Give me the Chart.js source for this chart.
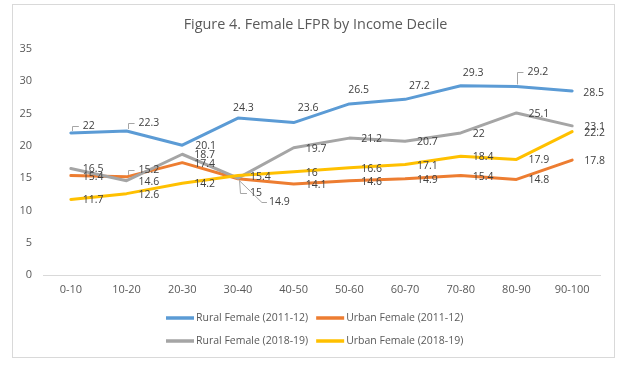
<!DOCTYPE html>
<html>
<head>
<meta charset="utf-8">
<title>Figure 4. Female LFPR by Income Decile</title>
<script src="https://cdn.jsdelivr.net/npm/chart.js@4.4.1/dist/chart.umd.min.js"></script>
<style>
  html, body { margin: 0; padding: 0; background: #fff; }
  canvas { display: block; }
</style>
</head>
<body>
<canvas id="chart" width="626" height="369"></canvas>
<script>
(function(){
  // income deciles on the x axis
  const categories = ['0-10', '10-20', '20-30', '30-40', '40-50', '50-60', '60-70', '70-80', '80-90', '90-100'];

  // female LFPR (%) per decile
  const ruralFemale2011 = [22, 22.3, 20.1, 24.3, 23.6, 26.5, 27.2, 29.3, 29.2, 28.5];
  const urbanFemale2011 = [15.4, 15.2, 17.4, 14.9, 14.1, 14.6, 14.9, 15.4, 14.8, 17.8];
  const ruralFemale2018 = [16.5, 14.6, 18.7, 15, 19.7, 21.2, 20.7, 22, 25.1, 23.1];
  const urbanFemale2018 = [11.7, 12.6, 14.2, 15.4, 16, 16.6, 17.1, 18.4, 17.9, 22.2];

  const yMin = 0, yMax = 35, yStep = 5;

  const TITLE = 'Figure 4. Female LFPR by Income Decile';
  const FONT = '"Open Sans", "Noto Sans", sans-serif';
  const TEXT = '#595959';
  const LABEL = '#404040';

  // where Excel put each data label: [dx, dy, leader], default is right of the point
  const LABEL_DEFAULT = [12, 1, null];
  const labelMoves = [
    { 0: [12, -7, 'up'], 1: [12, -8, 'up'], 2: [13, 1], 3: [-5, -10], 4: [4, -15], 5: [-1, -14], 6: [4, -13], 7: [2, -13], 8: [11, -14, 'up'], 9: [11, 2] },
    { 1: [12, -7, 'up'], 3: [31, 23, 'diag'] },
    { 3: [12, 15, 'down'] },
    {}
  ];

  const frame = {
    id: 'frame',
    beforeDraw(chart){
      const ctx = chart.ctx;
      ctx.save();
      ctx.fillStyle = '#fff';
      ctx.fillRect(0, 0, chart.width, chart.height);
      ctx.strokeStyle = '#d9d9d9';
      ctx.lineWidth = 1;
      ctx.strokeRect(12.5, 4.5, 602, 353);
      // title
      ctx.fillStyle = TEXT;
      ctx.font = '14.4px ' + FONT;
      ctx.textAlign = 'center';
      ctx.textBaseline = 'middle';
      ctx.fillText(TITLE, 315.5, 25);
      ctx.restore();
    }
  };

  const dataLabels = {
    id: 'dataLabels',
    afterDatasetsDraw(chart){
      const ctx = chart.ctx;
      ctx.save();
      ctx.font = '10.5px ' + FONT;
      ctx.textAlign = 'left';
      ctx.textBaseline = 'middle';
      chart.data.datasets.forEach((ds, di) => {
        const meta = chart.getDatasetMeta(di);
        meta.data.forEach((pt, i) => {
          const m = labelMoves[di][i] || LABEL_DEFAULT;
          const lx = pt.x + m[0], ly = pt.y + m[1];
          if (m[2]) {
            ctx.strokeStyle = '#a6a6a6';
            ctx.lineWidth = 1;
            ctx.beginPath();
            const x0 = Math.round(pt.x) + 1.5;
            if (m[2] === 'up') {
              ctx.moveTo(x0, pt.y - 2);
              ctx.lineTo(x0, Math.round(ly) + 0.5);
              ctx.lineTo(lx - 4, Math.round(ly) + 0.5);
            } else if (m[2] === 'down') {
              ctx.moveTo(x0, pt.y + 2);
              ctx.lineTo(x0 + 1, Math.round(ly) + 0.5);
              ctx.lineTo(lx - 3, Math.round(ly) + 0.5);
            } else {
              ctx.moveTo(x0, pt.y + 2);
              ctx.lineTo(lx - 7, Math.round(ly) + 0.5);
              ctx.lineTo(lx - 2, Math.round(ly) + 0.5);
            }
            ctx.stroke();
          }
          ctx.fillStyle = LABEL;
          ctx.fillText(String(ds.data[i]), lx, ly);
        });
      });
      ctx.restore();
    }
  };

  const legend = {
    id: 'twoRowLegend',
    afterDraw(chart){
      const ctx = chart.ctx;
      ctx.save();
      ctx.font = '10.5px ' + FONT;
      ctx.textBaseline = 'middle';
      ctx.textAlign = 'left';
      const items = chart.data.datasets.map(ds => ({
        label: ds.label, color: ds.borderColor, w: 28 + 2 + ctx.measureText(ds.label).width
      }));
      const col1 = Math.max(items[0].w, items[2].w);
      const col2 = Math.max(items[1].w, items[3].w);
      const gap = 8;
      const x0 = Math.round(chart.width / 2 + 2 - (col1 + gap + col2) / 2);
      const cols = [x0, x0 + col1 + gap];
      const rowsY = [chart.chartArea.bottom + 43, chart.chartArea.bottom + 66];
      items.forEach((it, i) => {
        const x = cols[i % 2], y = rowsY[Math.floor(i / 2)];
        ctx.strokeStyle = it.color;
        ctx.lineWidth = 3.5;
        ctx.beginPath();
        ctx.moveTo(x, y);
        ctx.lineTo(x + 28, y);
        ctx.stroke();
        ctx.fillStyle = TEXT;
        ctx.fillText(it.label, x + 30, y);
      });
      ctx.restore();
    }
  };

  function line(label, data, color, order){
    return {
      label: label, data: data, borderColor: color, backgroundColor: color,
      borderWidth: 3, pointRadius: 0, tension: 0, fill: false,
      borderJoinStyle: 'round', borderCapStyle: 'round', order: order
    };
  }

  new Chart(document.getElementById('chart'), {
    type: 'line',
    data: {
      labels: categories,
      datasets: [
        line('Rural Female (2011-12)', ruralFemale2011, '#5b9bd5', 3),
        line('Urban Female (2011-12)', urbanFemale2011, '#ed7d31', 2),
        line('Rural Female (2018-19)', ruralFemale2018, '#a5a5a5', 1),
        line('Urban Female (2018-19)', urbanFemale2018, '#ffc000', 0)
      ]
    },
    options: {
      responsive: false,
      animation: false,
      devicePixelRatio: 1,
      layout: { padding: { left: 12, right: 26, top: 49, bottom: 0 } },
      plugins: { legend: { display: false }, title: { display: false }, tooltip: { enabled: false } },
      scales: {
        x: {
          offset: true,
          grid: { display: false, drawTicks: false },
          border: { display: true, color: '#d9d9d9', width: 1 },
          ticks: { color: TEXT, font: { family: FONT, size: 11 }, padding: 8, maxRotation: 0, autoSkip: false },
          afterFit(scale){ scale.height = 94; }
        },
        y: {
          min: yMin, max: yMax,
          grid: { display: false, drawTicks: false },
          border: { display: false },
          ticks: { stepSize: yStep, color: TEXT, font: { family: FONT, size: 11 }, padding: 11 },
          afterFit(scale){ scale.width = 31; }
        }
      }
    },
    plugins: [frame, dataLabels, legend]
  });
})();
</script>
</body>
</html>
